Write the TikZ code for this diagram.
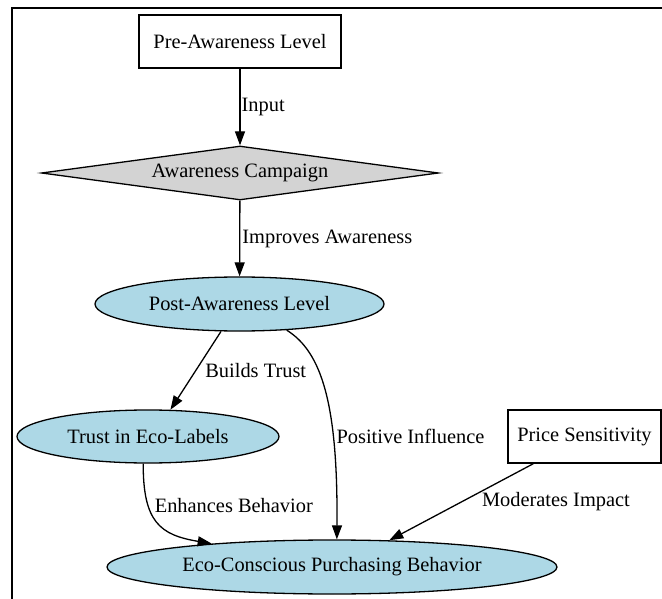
\documentclass[tikz,border=0pt]{standalone}
\usepackage{fontspec}
\setmainfont{Liberation Serif}
\usetikzlibrary{shapes.geometric,arrows.meta}
\definecolor{pastelblue}{RGB}{173,216,230}
\definecolor{campgray}{RGB}{211,211,211}

\begin{document}
\begin{tikzpicture}[x=1pt,y=-1pt,
		font=\fontsize{20.4pt}{24pt}\selectfont,
		box/.style={shape=rectangle,draw,line width=1.3pt,
					minimum height=53pt,inner sep=0pt},
		oval/.style={shape=ellipse,draw,line width=1.3pt,fill=pastelblue,
					minimum height=54pt,inner sep=0pt},
		link/.style={line width=1.3pt,-{Triangle[length=14pt,width=10pt]}},
		lbl/.style={anchor=west,inner sep=1pt}]
		\useasboundingbox (0,0) rectangle (662,599);
		\draw[line width=2pt] (662,8) -- (12,8) -- (12,599);
		\draw node(pre)[box,minimum width=202pt,at={(240,41.5)}]
			{Pre-Awareness Level};
		\draw node(camp)[shape=diamond,draw,line width=1.3pt,fill=campgray,
						 minimum width=397pt,minimum height=54pt,
						 inner sep=0pt,shape aspect=7.35,at={(240,173)}]
			{Awareness Campaign};
		\draw node(post)[oval,minimum width=289pt,at={(239.5,304)}]
			{Post-Awareness Level};
		\draw node(trust)[oval,minimum width=262pt,minimum height=53pt,
						  at={(148,436.5)}]
			{Trust in Eco-Labels};
		\draw node(price)[box,minimum width=153pt,at={(584.5,436.5)}]
			{Price Sensitivity};
		\draw node(eco)[oval,minimum width=450pt,at={(332,567)}]
			{Eco-Conscious Purchasing Behavior};
		% edges
		\draw[link] (pre) -- node[lbl]{Input} (camp);
		\draw[link] (camp) -- node[lbl,xshift=1pt]{Improves Awareness} (post);
		\draw[link] (post.-124) -- node[lbl,xshift=8pt]{Builds Trust} (trust.50);
		\draw[link] (post.-29) .. controls (322,352) and (338,405) ..
			node[lbl,pos=0.69,xshift=2pt]{Positive Influence} (eco.80);
		\draw[link] (trust.-100) .. controls (143,522) and (160,535) ..
			node[lbl,pos=0.3,xshift=5pt]{Enhances Behavior} (eco.169);
		\draw[link] (price.-152) -- node[lbl,xshift=19pt]{Moderates Impact} (eco.25);
\end{tikzpicture}
\end{document}
